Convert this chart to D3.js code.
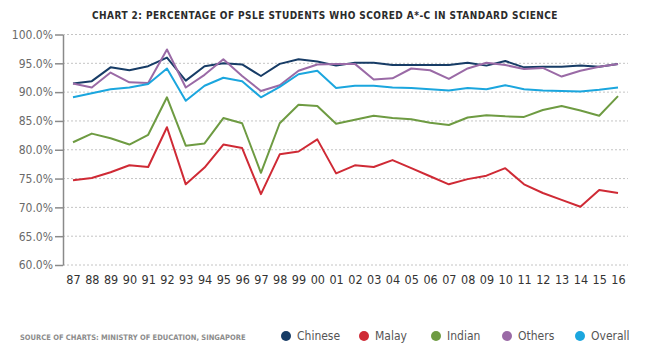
<!DOCTYPE html>
<html>
<head>
<meta charset="utf-8">
<script src="https://cdn.jsdelivr.net/npm/d3@7"></script>
<style>
  body { margin: 0; background: #fff; }
  svg { display: block; }
</style>
</head>
<body>
<svg id="chart" width="650" height="363"></svg>
<script>
var years = ["87","88","89","90","91","92","93","94","95","96","97","98","99","00",
  "01","02","03","04","05","06","07","08","09","10","11","12","13","14","15","16"];

var chinese = [91.5,91.9,94.3,93.8,94.5,96.0,92.0,94.5,95.0,94.8,92.8,94.9,95.7,95.3,
  94.6,95.1,95.1,94.7,94.7,94.7,94.7,95.1,94.6,95.4,94.3,94.4,94.4,94.6,94.4,94.9];
var malay = [74.7,75.1,76.1,77.3,77.0,83.9,74.0,76.9,80.9,80.3,72.3,79.2,79.7,81.8,
  75.9,77.3,77.0,78.2,76.8,75.4,74.0,74.9,75.5,76.8,74.0,72.5,71.3,70.1,73.0,72.5];
var indian = [81.3,82.8,82.0,80.9,82.6,89.1,80.7,81.1,85.5,84.6,76.0,84.6,87.8,87.6,
  84.5,85.2,85.9,85.5,85.3,84.7,84.3,85.6,86.0,85.8,85.7,86.9,87.6,86.8,85.9,89.3];
var others = [91.5,90.8,93.4,91.7,91.6,97.4,90.8,93.0,95.7,92.8,90.2,91.2,93.7,94.8,
  94.9,94.9,92.2,92.4,94.1,93.8,92.3,94.1,95.1,94.7,94.0,94.2,92.7,93.7,94.4,94.9];
var overall = [89.1,89.8,90.5,90.8,91.4,94.1,88.5,91.1,92.5,91.9,89.1,90.9,93.1,93.7,
  90.7,91.1,91.1,90.8,90.7,90.5,90.3,90.7,90.5,91.2,90.5,90.3,90.2,90.1,90.4,90.8];

var yTicks = [60,65,70,75,80,85,90,95,100];

var series = [
  {name: "Chinese", values: chinese, color: "#173c66"},
  {name: "Malay", values: malay, color: "#cf2a35"},
  {name: "Indian", values: indian, color: "#6e9b42"},
  {name: "Others", values: others, color: "#9a6aa6"},
  {name: "Overall", values: overall, color: "#1ba6de"}
];

var svg = d3.select("#chart");

var x = d3.scalePoint().domain(years).range([73, 618]);
var y = d3.scaleLinear().domain([60, 100]).range([265, 34.5]);

// title
svg.append("text")
  .attr("x", 325)
  .attr("y", 19)
  .attr("text-anchor", "middle")
  .attr("font-family", "'DejaVu Sans Condensed', 'Liberation Sans Narrow', sans-serif")
  .attr("font-weight", "bold")
  .attr("font-size", 10)
  .attr("letter-spacing", 0.45)
  .attr("fill", "#2b2b2b")
  .text("CHART 2: PERCENTAGE OF PSLE STUDENTS WHO SCORED A*-C IN STANDARD SCIENCE");

// gridlines
svg.append("g")
  .selectAll("line")
  .data(yTicks)
  .join("line")
  .attr("x1", 63)
  .attr("x2", 628)
  .attr("y1", d => y(d))
  .attr("y2", d => y(d))
  .attr("stroke", "#c4c4c4")
  .attr("stroke-width", 1)
  .attr("stroke-dasharray", "2,2");

// y axis
var yAxis = svg.append("g")
  .attr("transform", "translate(63,0)")
  .call(d3.axisLeft(y).tickValues(yTicks).tickSize(8).tickSizeOuter(0)
    .tickFormat(d => d.toFixed(1) + "%"));
yAxis.select(".domain").attr("stroke", "#8a8a8a").attr("stroke-width", 1.5);
yAxis.selectAll(".tick line").attr("stroke", "#8a8a8a").attr("stroke-width", 1.5);
yAxis.selectAll(".tick text")
  .attr("x", -10)
  .attr("fill", "#6a6a6a")
  .attr("font-family", "'Liberation Sans Narrow', 'DejaVu Sans Condensed', sans-serif")
  .attr("font-size", 12);

// x axis labels
var xAxis = svg.append("g")
  .attr("transform", "translate(0,270)")
  .call(d3.axisBottom(x).tickSize(0));
xAxis.select(".domain").remove();
xAxis.selectAll(".tick text")
  .attr("dy", "0.9em")
  .attr("fill", "#333")
  .attr("font-family", "'Liberation Sans Narrow', 'DejaVu Sans Condensed', sans-serif")
  .attr("font-size", 12.5);

// lines
var line = d3.line()
  .x((d, i) => x(years[i]))
  .y(d => y(d));

svg.append("g")
  .selectAll("path")
  .data(series)
  .join("path")
  .attr("d", d => line(d.values))
  .attr("fill", "none")
  .attr("stroke", d => d.color)
  .attr("stroke-width", 2)
  .attr("stroke-linejoin", "round");

// source note
svg.append("text")
  .attr("x", 20)
  .attr("y", 340)
  .attr("font-family", "'DejaVu Sans Condensed', 'Liberation Sans Narrow', sans-serif")
  .attr("font-weight", "bold")
  .attr("font-size", 7.5)
  .attr("fill", "#8c8c8c")
  .text("SOURCE OF CHARTS: MINISTRY OF EDUCATION, SINGAPORE");

// legend
var legendX = [286, 364, 436, 507, 580];
var legend = svg.append("g")
  .selectAll("g")
  .data(series)
  .join("g")
  .attr("transform", (d, i) => "translate(" + legendX[i] + ",336)");
legend.append("circle")
  .attr("r", 5)
  .attr("fill", d => d.color);
legend.append("text")
  .attr("x", 11)
  .attr("dy", "0.35em")
  .attr("font-family", "'Liberation Sans Narrow', 'DejaVu Sans Condensed', sans-serif")
  .attr("font-size", 12)
  .attr("fill", "#555")
  .text(d => d.name);
</script>
</body>
</html>
